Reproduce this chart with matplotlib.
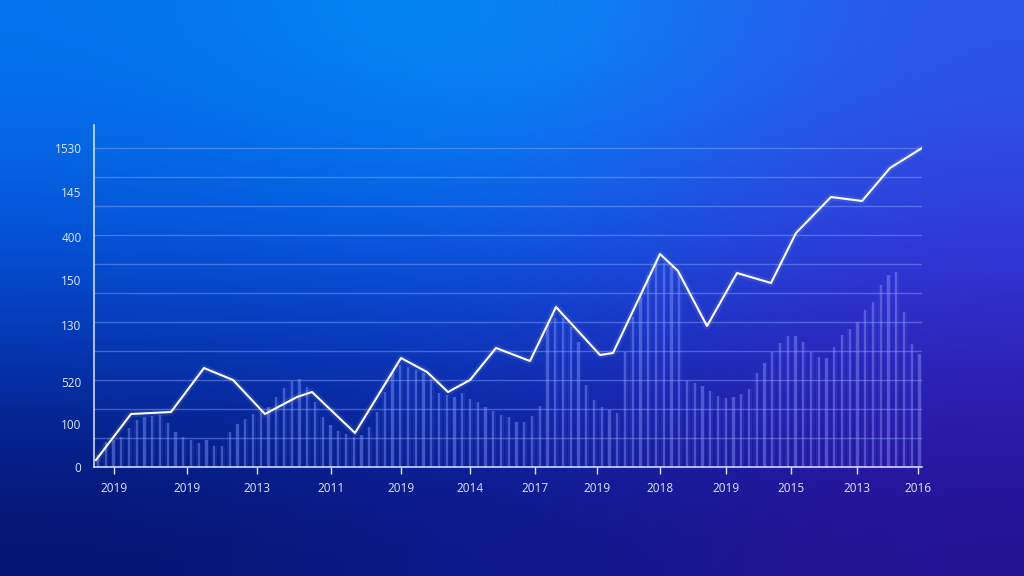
import numpy as np
import matplotlib
matplotlib.use('Agg')
import matplotlib.pyplot as plt

# line series (x position along axis, value)
line_x = [2, 37, 77, 110, 139, 171, 203, 218, 261, 307, 333, 354, 376, 402, 436,
          462, 506, 519, 566, 584, 613, 643, 677, 702, 737, 768, 796, 828]
line_y = [7, 53, 55, 99, 87, 53, 70, 75, 34, 109, 95, 75, 87, 119, 106,
          160, 112, 114, 213, 196, 141, 194, 184, 234, 270, 266, 299, 319]

# background bar heights, one per thin column
bar_h = [12, 25, 27, 30, 39, 47, 50, 51, 52, 44, 35, 30, 27, 24, 27, 21, 21, 35,
         43, 48, 53, 56, 60, 70, 79, 86, 88, 80, 65, 50, 42, 36, 33, 30, 32, 40,
         55, 75, 95, 102, 100, 97, 94, 88, 74, 72, 70, 74, 68, 65, 60, 56, 52, 50,
         45, 45, 51, 61, 142, 149, 149, 140, 125, 82, 67, 60, 57, 54, 115, 150, 170,
         192, 204, 204, 200, 194, 86, 84, 81, 76, 71, 69, 70, 73, 78, 94, 104, 115,
         124, 131, 131, 125, 115, 110, 109, 120, 132, 138, 145, 157, 165, 182, 192,
         195, 155, 123, 113]

xtick_pos = [20, 93, 163, 237, 307, 376, 441, 503, 566, 632, 697, 763, 824]
xtick_labels = ['2019', '2019', '2013', '2011', '2019', '2014', '2017',
                '2019', '2018', '2019', '2015', '2013', '2016']
ytick_pos = [0, 43, 85, 142, 187, 230, 275, 319]
ytick_labels = ['0', '100', '520', '130', '150', '400', '145', '1530']

plt.rcParams['font.family'] = ['Open Sans', 'DejaVu Sans']

fig = plt.figure(figsize=(10.24, 5.76), dpi=100)

# gradient background
bg = fig.add_axes([0, 0, 1, 1])
grid = np.array([
    [[5, 115, 235], [0, 150, 250], [45, 85, 232]],
    [[6, 70, 210], [12, 72, 222], [55, 45, 210]],
    [[5, 20, 112], [12, 24, 138], [38, 18, 148]],
]) / 255.0
bg.imshow(grid, aspect='auto', interpolation='bicubic', extent=[0, 1, 0, 1])
bg.set_xlim(0, 1)
bg.set_ylim(0, 1)
bg.axis('off')

ax = fig.add_axes([94 / 1024, 109 / 576, 828 / 1024, 342 / 576])
ax.patch.set_alpha(0)
ax.set_xlim(0, 828)
ax.set_ylim(0, 342)

# grid lines
for gy in np.arange(29, 330, 29):
    ax.axhline(gy, color='#8fb0ff', lw=1.0, alpha=0.42, zorder=1)

bar_x = 4 + 7.75 * np.arange(len(bar_h))
ax.bar(bar_x, bar_h, width=5, color='#7f90ff', alpha=0.1, zorder=2)
ax.bar(bar_x, bar_h, width=2.3, color='#8c9cff', alpha=0.38, zorder=2)

ax.plot(line_x, line_y, color='white', lw=5, alpha=0.08, zorder=3)
ax.plot(line_x, line_y, color='white', lw=1.5, zorder=4)

for s in ['top', 'right']:
    ax.spines[s].set_visible(False)
ax.spines['left'].set_color('#dfe8ff')
ax.spines['bottom'].set_color('#dfe8ff')
ax.spines['left'].set_linewidth(1.1)
ax.spines['bottom'].set_linewidth(1.1)

ax.set_xticks(xtick_pos)
ax.set_xticklabels(xtick_labels)
ax.set_yticks(ytick_pos)
ax.set_yticklabels(ytick_labels)
ax.tick_params(axis='x', colors='#dfe8ff', length=5, width=1, labelsize=8.5, pad=6)
ax.tick_params(axis='y', colors='#dfe8ff', length=0, labelsize=8.5, pad=9)

fig.savefig('out.png', dpi=100)
